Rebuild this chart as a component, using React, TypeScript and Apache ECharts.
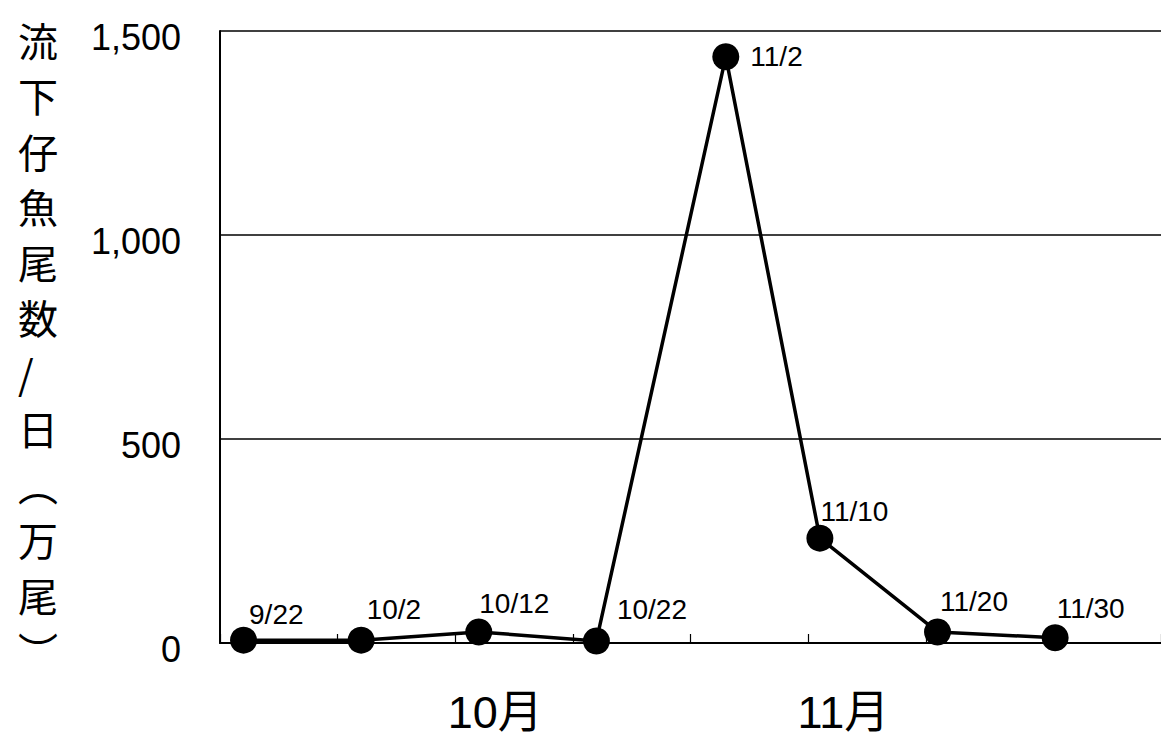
import React, { useEffect, useRef } from "react";
import * as echarts from "echarts";

// ---- data ----
const dateLabels = ["9/22", "10/2", "10/12", "10/22", "11/2", "11/10", "11/20", "11/30"];
const fishCounts = [7, 7, 27, 5, 1437, 257, 27, 13];
const yTickValues = [0, 500, 1000, 1500];
const monthLabels = ["10月", "11月"];
const monthLabelDays = [23.4, 53];
const axisStartDate = "9/20";
const axisEndDays = 80;
const yAxisTitle = "流下仔魚尾数/日（万尾）";
// label placement (style only)
const labelOffsets: number[][] = [
  [-13, -26], [-13, -31], [-18, -28], [2, -31], [6, 0], [-18, -27], [-16, -30], [-17, -29],
];

const toDay = (s: string) => {
  const [m, d] = s.split("/").map(Number);
  return Date.UTC(2000, m - 1, d) / 86400000;
};
const startDay = toDay(axisStartDate);
const xDays = dateLabels.map((s) => toDay(s) - startDay);

const LATIN = "'Liberation Sans', Arial, 'Noto Sans CJK JP', sans-serif";
const CJK = "'Noto Sans CJK JP', sans-serif";

export default function App() {
  const ref = useRef<HTMLDivElement>(null);
  useEffect(() => {
    document.body.style.margin = "0";
    if (!ref.current) return;
    const chart = echarts.init(ref.current, undefined, { renderer: "svg" });
    const verticalTitle = yAxisTitle
      .split("")
      .map((c) => (c === "（" ? "︵" : c === "）" ? "︶" : c))
      .join("\n");
    chart.setOption({
      animation: false,
      backgroundColor: "#ffffff",
      grid: { left: 220, top: 31, width: 944, height: 612, containLabel: false },
      xAxis: [
        {
          type: "value",
          min: 0,
          max: axisEndDays,
          interval: 10,
          position: "bottom",
          axisLine: { show: true, onZero: false, lineStyle: { color: "#000", width: 2 } },
          axisTick: { show: true, inside: true, length: 9, lineStyle: { color: "#000", width: 1.2 } },
          axisLabel: { show: false },
          splitLine: { show: false },
        },
        {
          type: "value",
          min: 0,
          max: axisEndDays,
          position: "bottom",
          axisLine: { show: false },
          axisTick: { show: false },
          splitLine: { show: false },
          axisLabel: {
            show: true,
            customValues: monthLabelDays,
            formatter: (v: number) => {
              const i = monthLabelDays.findIndex((d) => Math.abs(d - v) < 1e-6);
              return i >= 0 ? monthLabels[i] : "";
            },
            margin: 47,
            color: "#000",
            fontSize: 45,
            fontFamily: LATIN,
          },
        },
      ],
      yAxis: {
        type: "value",
        min: yTickValues[0],
        max: yTickValues[yTickValues.length - 1],
        interval: 500,
        axisLine: { show: true, lineStyle: { color: "#000", width: 2 } },
        axisTick: { show: false },
        axisLabel: {
          color: "#000",
          fontSize: 36,
          fontFamily: LATIN,
          margin: 39,
          verticalAlign: "top",
          lineHeight: 12,
          formatter: (v: number) => v.toLocaleString("en-US"),
        },
        splitLine: { show: true, lineStyle: { color: "#000", width: 1.6 } },
      },
      graphic: [
        {
          type: "text",
          left: 18,
          top: 12,
          style: {
            text: verticalTitle,
            fontSize: 40,
            lineHeight: 55.5,
            fontFamily: CJK,
            fill: "#000",
            align: "center",
            width: 44,
          },
        },
      ],
      series: [
        {
          type: "line",
          xAxisIndex: 0,
          data: xDays.map((d, i) => ({
            value: [d, fishCounts[i]],
            label: { offset: labelOffsets[i] },
          })),
          symbol: "circle",
          symbolSize: 27,
          itemStyle: { color: "#000" },
          lineStyle: { color: "#000", width: 3.5 },
          label: {
            show: true,
            position: "right",
            distance: 5,
            color: "#000",
            fontSize: 28,
            fontFamily: LATIN,
            formatter: (p: any) => dateLabels[p.dataIndex],
          },
        },
      ],
    });
    return () => chart.dispose();
  }, []);
  return <div ref={ref} style={{ width: 1161, height: 738 }} />;
}
